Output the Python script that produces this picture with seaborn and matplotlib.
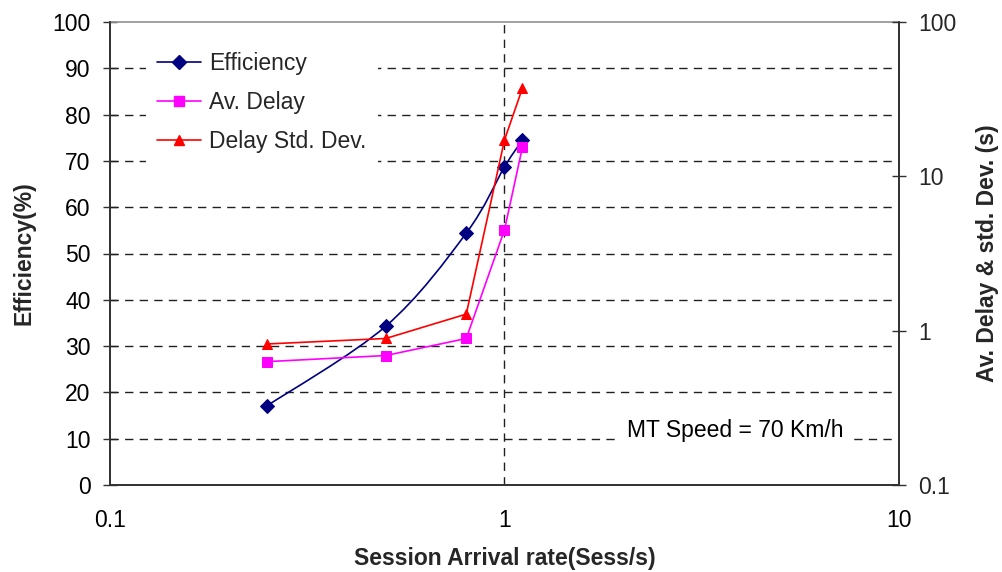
import numpy as np
import pandas as pd
import matplotlib
matplotlib.use("Agg")
import matplotlib.pyplot as plt
from matplotlib.path import Path
from matplotlib.patches import PathPatch
from matplotlib.lines import Line2D
from matplotlib.ticker import FixedLocator, FixedFormatter, NullLocator
import seaborn as sns

# Session arrival rate (sess/s)
arrival_rate = [0.25, 0.5, 0.8, 1.0, 1.11]
# Efficiency (%) - left axis
efficiency = [17.1, 34.3, 54.4, 68.7, 74.5]
# Average delay and delay standard deviation (s) - right axis (log)
av_delay = [0.63, 0.69, 0.89, 4.5, 15.4]
delay_std = [0.82, 0.89, 1.28, 17.2, 37.2]

series_names = ["Efficiency", "Av. Delay", "Delay Std. Dev."]
x_ticks = [0.1, 1, 10]
x_tick_labels = ["0.1", "1", "10"]
left_ticks = list(range(0, 101, 10))
right_ticks = [0.1, 1, 10, 100]
right_tick_labels = ["0.1", "1", "10", "100"]
note_text = "MT Speed = 70 Km/h"

C_EFF = "#000080"
C_AVG = "#FF00FF"
C_STD = "#FF0000"
AX_COLOR = "#303030"

sns.set_theme(style="white")
plt.rcParams["font.family"] = ["Liberation Sans", "DejaVu Sans"]
FS = 16.5

df = pd.DataFrame({"rate": arrival_rate, "eff": efficiency,
                   "avg": av_delay, "std": delay_std})

fig = plt.figure(figsize=(10.03, 5.72), dpi=100)
ax = fig.add_axes([110 / 1003, 1 - 485 / 572, (899 - 110) / 1003, (485 - 22) / 572])
ax.set_xscale("log")
ax.set_xlim(0.1, 10)
ax.set_ylim(0, 100)

# dashed grid: horizontal at each 10 %, vertical at rate 1
for v in left_ticks[1:-1]:
    ax.axhline(v, color="#202020", lw=1.0, ls=(0, (6, 4.5)), zorder=1)
ax.axvline(1, color="#202020", lw=1.0, ls=(0, (6, 4.5)), zorder=1)

# smoothed efficiency curve (cubic Bezier through the points, in log-x space)
u = np.log10(np.array(arrival_rate, dtype=float))
yv = np.array(efficiency, dtype=float)
P = np.column_stack([u, yv])
n = len(P)
verts = [P[0]]
codes = [Path.MOVETO]
for i in range(n - 1):
    p_prev = P[i - 1] if i > 0 else P[i]
    p_next2 = P[i + 2] if i + 2 < n else P[i + 1]
    c1 = P[i] + (P[i + 1] - p_prev) / 6.0
    c2 = P[i + 1] - (p_next2 - P[i]) / 6.0
    verts += [c1, c2, P[i + 1]]
    codes += [Path.CURVE4] * 3
verts = np.array(verts)
verts[:, 0] = 10 ** verts[:, 0]
ax.add_patch(PathPatch(Path(verts, codes), fill=False, edgecolor=C_EFF,
                       lw=1.2, zorder=3))
sns.lineplot(data=df, x="rate", y="eff", ax=ax, color=C_EFF, marker="D",
             markersize=7, markeredgecolor=C_EFF, linestyle="", zorder=4,
             legend=False)

ax.set_xlabel("Session Arrival rate(Sess/s)", fontsize=FS, fontweight="bold",
              labelpad=11)
ax.set_ylabel("Efficiency(%)", fontsize=FS, fontweight="bold", labelpad=12)
ax.xaxis.set_major_locator(FixedLocator(x_ticks))
ax.xaxis.set_major_formatter(FixedFormatter(x_tick_labels))
ax.xaxis.set_minor_locator(NullLocator())
ax.yaxis.set_major_locator(FixedLocator(left_ticks))
ax.tick_params(axis="both", which="major", direction="inout", length=10,
               width=1.0, color=AX_COLOR, labelsize=FS, labelcolor="black")
ax.tick_params(axis="x", pad=12)
ax.tick_params(axis="y", pad=9)

# speed note sitting on the 10 % gridline, masking it
note_x = 10 ** (np.log10(0.1) + (735 - 110) / 394.5)
ax.text(note_x, 10.3, note_text, fontsize=FS, ha="center", va="baseline",
        color="black", zorder=5,
        bbox=dict(facecolor="white", edgecolor="none", pad=7))

for side in ["left", "bottom", "right"]:
    ax.spines[side].set_color(AX_COLOR)
    ax.spines[side].set_linewidth(1.2)
ax.spines["top"].set_color("#909090")
ax.spines["top"].set_linewidth(1.2)

# right axis: delays in seconds, log scale
ax2 = ax.twinx()
ax2.set_yscale("log")
ax2.set_ylim(0.1, 100)
sns.lineplot(data=df, x="rate", y="avg", ax=ax2, color=C_AVG, marker="s",
             markersize=6.5, markeredgecolor=C_AVG, lw=1.2, zorder=4,
             legend=False)
sns.lineplot(data=df, x="rate", y="std", ax=ax2, color=C_STD, marker="^",
             markersize=7.5, markeredgecolor=C_STD, lw=1.2, zorder=4,
             legend=False)
ax2.set_xlim(0.1, 10)
ax2.yaxis.set_major_locator(FixedLocator(right_ticks))
ax2.yaxis.set_major_formatter(FixedFormatter(right_tick_labels))
ax2.yaxis.set_minor_locator(NullLocator())
ax2.tick_params(axis="y", which="major", direction="inout", length=10,
                width=1.0, color=AX_COLOR, labelsize=FS, pad=9)
ax2.set_ylabel("Av. Delay & std. Dev. (s)", fontsize=FS, fontweight="bold",
               labelpad=14)
ax2.set_xlabel("")
for side in ["left", "bottom", "right"]:
    ax2.spines[side].set_color(AX_COLOR)
    ax2.spines[side].set_linewidth(1.2)
ax2.spines["top"].set_visible(False)

handles = [
    Line2D([], [], color=C_EFF, marker="D", markersize=7, lw=1.2),
    Line2D([], [], color=C_AVG, marker="s", markersize=6.5, lw=1.2),
    Line2D([], [], color=C_STD, marker="^", markersize=7.5, lw=1.2),
]
leg = ax2.legend(handles, series_names, loc="upper left",
                 bbox_to_anchor=(146 / 1003, 1 - 41 / 572),
                 bbox_transform=fig.transFigure, frameon=True, fancybox=False,
                 facecolor="white", edgecolor="none", framealpha=1.0,
                 fontsize=FS, handlelength=1.9, handletextpad=0.35,
                 labelspacing=0.68, borderaxespad=0, borderpad=0.5)
leg.set_zorder(6)

fig.savefig("out.png", dpi=100)
